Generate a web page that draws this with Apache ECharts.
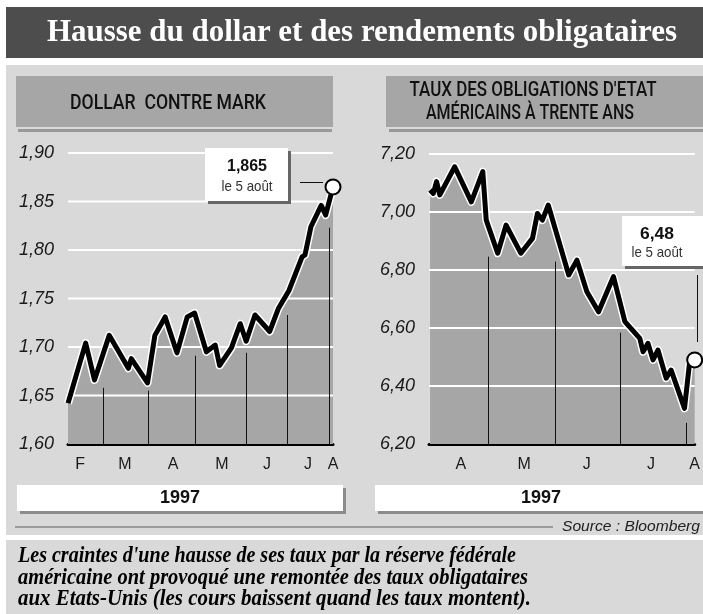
<!DOCTYPE html>
<html><head><meta charset="utf-8">
<script src="https://cdn.jsdelivr.net/npm/echarts@6/dist/echarts.min.js"></script>
<style>html,body{margin:0;padding:0;background:#fff}#c{width:703px;height:614px}</style>
</head><body><div id="c"></div>
<script>
// ---------- DATA ----------
// x = day of year 1997 (approx.), y = value
const dollarDays   = [36, 48, 54, 64, 77, 79, 90, 95, 102, 110, 117, 122, 130, 136, 139, 147, 153, 157, 163, 173, 179, 186, 195, 197, 201, 208, 211, 216];
const dollarValues = [1.642, 1.704, 1.666, 1.712, 1.678, 1.688, 1.663, 1.712, 1.731, 1.694, 1.731, 1.735, 1.695, 1.702, 1.681, 1.699, 1.724, 1.706, 1.733, 1.716, 1.740, 1.758, 1.793, 1.795, 1.824, 1.846, 1.836, 1.865];
const dollarSepDays = [60, 90.3, 122.3, 156.9, 184.8, 213.3];
const dollarSepTops = [1.658, 1.655, 1.691, 1.694, 1.733, 1.823];
const dollarMonthPos = [44.2, 74.7, 107.3, 140.6, 171.2, 199, 216];
const dollarMonthLabels = ['F', 'M', 'A', 'M', 'J', 'J', 'A'];
const dollarTicks = [1.60, 1.65, 1.70, 1.75, 1.80, 1.85, 1.90];

const bondDays   = [94.5, 96.0, 97.5, 99.0, 105.9, 113.6, 118.9, 120.5, 125.8, 129.7, 136.5, 141.9, 144.2, 146.5, 149.2, 158.7, 162.5, 167.1, 172.5, 179.4, 184.7, 191.6, 193.1, 195.4, 197.7, 200.0, 203.8, 206.1, 212.3, 214.6, 217];
const bondValues = [7.076, 7.064, 7.105, 7.059, 7.156, 7.035, 7.139, 6.972, 6.858, 6.955, 6.858, 6.909, 6.995, 6.972, 7.024, 6.783, 6.834, 6.725, 6.656, 6.777, 6.622, 6.564, 6.518, 6.547, 6.490, 6.524, 6.427, 6.455, 6.323, 6.478, 6.49];
const bondSepDays = [121.5, 152.3, 182.6, 212.9];
const bondSepTops = [6.846, 6.829, 6.584, 6.273];
const bondMonthPos = [108.7, 138.1, 167.0, 196.8, 217];
const bondMonthLabels = ['A', 'M', 'J', 'J', 'A'];
const bondTicks = [6.20, 6.40, 6.60, 6.80, 7.00, 7.20];

const titleText = 'Hausse du dollar et des rendements obligataires';
const leftHeader = 'DOLLAR  CONTRE MARK';
const rightHeader = ["TAUX DES OBLIGATIONS D'ETAT", 'AMÉRICAINS À TRENTE ANS'];
const yearText = '1997';
const dollarCallout = ['1,865', 'le 5 août'];
const bondCallout = ['6,48', 'le 5 août'];
const sourceText = 'Source : Bloomberg';
const captionLines = [
  "Les craintes d'une hausse de ses taux par la réserve fédérale",
  "américaine ont provoqué une remontée des taux obligataires",
  "aux Etats-Unis (les cours baissent quand les taux montent)."
];

// ---------- HELPERS ----------
const mctx = document.createElement('canvas').getContext('2d');
function fit(text, font, w) { mctx.font = font; return w / mctx.measureText(text).width; }
function txt(text, x, y, font, fill, align, targetW, z) {
  const el = { type: 'text', x: x, y: y, z: z || 20, silent: true,
    style: { text: text, font: font, fill: fill, textAlign: align || 'center', textVerticalAlign: 'middle' } };
  if (targetW) el.scaleX = fit(text, font, targetW);
  return el;
}
function rect(x, y, w, h, fill, z) { return { type: 'rect', z: z || 0, silent: true, shape: { x: x, y: y, width: w, height: h }, style: { fill: fill } }; }
function line(x1, y1, x2, y2, stroke, lw, z) { return { type: 'line', z: z || 20, silent: true, shape: { x1: x1, y1: y1, x2: x2, y2: y2 }, style: { stroke: stroke, lineWidth: lw } }; }

const AREA = '#a6a6a6', PANEL = '#d9d9d9';

function chartSeries(idx, days, vals, sepDays, sepTops, ticks, xMin) {
  const yMin = ticks[0];
  const pairs = days.map((d, i) => [d, vals[i]]);
  const last = pairs.length - 1;
  const lineData = pairs.map((p, i) => i === last
    ? { value: p, symbol: 'circle', symbolSize: 15, itemStyle: { color: '#fff', borderColor: '#000', borderWidth: 2 } }
    : { value: p, symbol: 'none' });
  return [
    { type: 'line', xAxisIndex: idx, yAxisIndex: idx, z: 1, data: pairs, symbol: 'none', clip: false,
      lineStyle: { width: 0 }, areaStyle: { color: AREA, opacity: 1, origin: 'start' }, silent: true, animation: false },
    { type: 'custom', xAxisIndex: idx, yAxisIndex: idx, z: 2, silent: true, animation: false,
      data: ticks.slice(1).map(v => [xMin, v]),
      renderItem: function (params, api) {
        const p1 = api.coord([xMin, api.value(1)]);
        const cs = params.coordSys;
        return { type: 'line', shape: { x1: cs.x, y1: p1[1], x2: cs.x + cs.width, y2: p1[1] }, style: { stroke: '#fff', lineWidth: 2 } };
      } },
    { type: 'custom', xAxisIndex: idx, yAxisIndex: idx, z: 3, silent: true, animation: false,
      data: sepDays.map((d, i) => [d, sepTops[i]]),
      renderItem: function (params, api) {
        const p1 = api.coord([api.value(0), yMin]);
        const p2 = api.coord([api.value(0), api.value(1)]);
        return { type: 'line', shape: { x1: Math.round(p1[0]) + 0.5, y1: p1[1], x2: Math.round(p2[0]) + 0.5, y2: p2[1] }, style: { stroke: '#111', lineWidth: 1 } };
      } },
    { type: 'line', xAxisIndex: idx, yAxisIndex: idx, z: 4, data: pairs, symbol: 'none', clip: false, silent: true, animation: false,
      lineStyle: { color: '#fff', width: 8, join: 'round' } },
    { type: 'line', xAxisIndex: idx, yAxisIndex: idx, z: 5, data: lineData, showSymbol: true, symbol: 'none', clip: false, silent: true, animation: false,
      lineStyle: { color: '#000', width: 5, join: 'round' } }
  ];
}

function xAxisCfg(idx, min, max, pos, labels) {
  return { type: 'value', gridIndex: idx, min: min, max: max,
    axisLine: { show: true, onZero: false, lineStyle: { color: '#000', width: 3 } },
    axisTick: { show: false }, splitLine: { show: false },
    axisLabel: { customValues: pos, margin: 13, fontFamily: 'Liberation Sans', fontSize: 16, color: '#1a1a1a',
      formatter: function (v) { const i = pos.indexOf(v); return i >= 0 ? labels[i] : ''; } } };
}
function yAxisCfg(idx, ticks, dec) {
  return { type: 'value', gridIndex: idx, min: ticks[0], max: ticks[ticks.length - 1], interval: +(ticks[1] - ticks[0]).toFixed(4),
    axisLine: { show: false }, axisTick: { show: false }, splitLine: { show: false },
    axisLabel: { margin: 14, fontFamily: 'Liberation Sans', fontStyle: 'italic', fontSize: 18, color: '#1a1a1a',
      formatter: v => v.toFixed(dec).replace('.', ',') } };
}

const titleFont = 'bold 31px "Liberation Serif"';
const headFont = '500 21px Roboto';
const capFont = 'italic bold 23px "Liberation Serif"';

const graphics = [
  rect(6, 7, 697, 51, '#4d4d4d', 0),
  rect(6, 65, 697, 470, PANEL, 0),
  rect(16, 76, 317, 51, AREA, 0),
  rect(386, 76, 317, 51, AREA, 0),
  rect(18, 129, 314, 3, '#999', 0),
  rect(389, 129, 314, 3, '#999', 0),
  rect(20, 488, 326, 26, '#8c8c8c', 0),
  rect(17, 485, 326, 26, '#fff', 0),
  rect(378, 488, 325, 26, '#8c8c8c', 0),
  rect(375, 485, 328, 26, '#fff', 0),
  rect(6, 540, 697, 74, PANEL, 0),
  txt(titleText, 362, 33, titleFont, '#fff', 'center', 630),
  txt(leftHeader, 168, 104, headFont, '#111', 'center', 196),
  txt(rightHeader[0], 533, 91, headFont, '#111', 'center', 247),
  txt(rightHeader[1], 530, 114, headFont, '#111', 'center', 208),
  txt(yearText, 180, 498, 'bold 18px "Liberation Sans"', '#111', 'center'),
  txt(yearText, 541, 498, 'bold 18px "Liberation Sans"', '#111', 'center'),
  // callouts
  rect(208, 151, 83, 53, '#666', 10),
  rect(205, 148, 83, 53, '#fff', 11),
  txt(dollarCallout[0], 247, 166, 'bold 17px "Liberation Sans"', '#111', 'center', 40),
  txt(dollarCallout[1], 247, 187, '15px "Liberation Sans"', '#333', 'center', 51),
  line(300, 182.5, 323, 182.5, '#111', 1),
  rect(625, 219, 81, 50, '#666', 10),
  rect(622, 216, 81, 50, '#fff', 11),
  txt(bondCallout[0], 657, 234, 'bold 17px "Liberation Sans"', '#111', 'center', 34),
  txt(bondCallout[1], 657, 253, '15px "Liberation Sans"', '#333', 'center', 51),
  line(697.5, 275, 697.5, 342, '#111', 1),
  // source
  line(15, 527, 553, 527, '#9a9a9a', 2),
  txt(sourceText, 700, 527, 'italic 15px "Liberation Sans"', '#222', 'right', 138),
  // caption
  txt(captionLines[0], 18, 556, capFont, '#000', 'left', 498),
  txt(captionLines[1], 18, 578, capFont, '#000', 'left', 510),
  txt(captionLines[2], 18, 599, capFont, '#000', 'left', 513)
];

const chart = echarts.init(document.getElementById('c'), null, { renderer: 'canvas', width: 703, height: 614 });
chart.setOption({
  animation: false,
  backgroundColor: '#fff',
  graphic: { elements: graphics },
  grid: [
    { left: 68, top: 153, width: 265, height: 291 },
    { left: 429, top: 154, width: 268, height: 290 }
  ],
  xAxis: [xAxisCfg(0, 36, 216, dollarMonthPos, dollarMonthLabels), xAxisCfg(1, 94, 217, bondMonthPos, bondMonthLabels)],
  yAxis: [yAxisCfg(0, dollarTicks, 2), yAxisCfg(1, bondTicks, 2)],
  series: [].concat(
    chartSeries(0, dollarDays, dollarValues, dollarSepDays, dollarSepTops, dollarTicks, 36),
    chartSeries(1, bondDays, bondValues, bondSepDays, bondSepTops, bondTicks, 94)
  )
});
</script>
</body></html>
